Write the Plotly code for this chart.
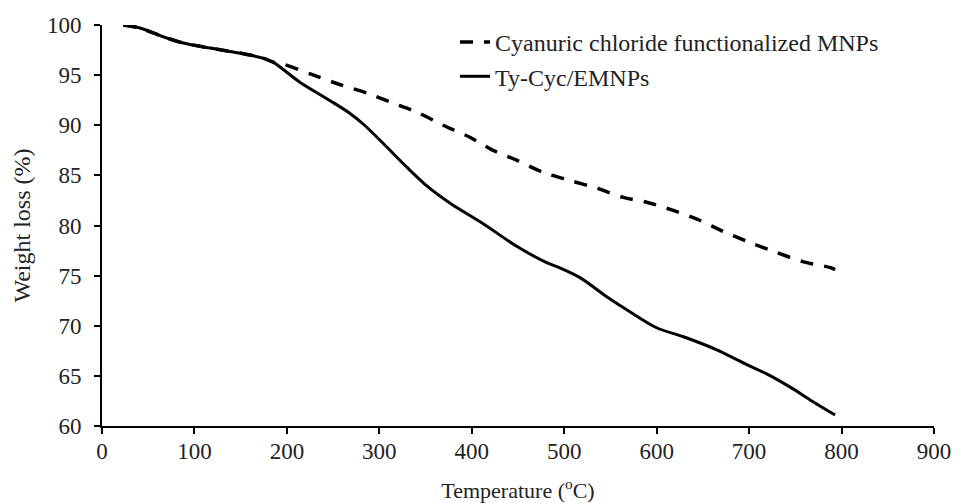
import plotly.graph_objects as go

# Cyanuric chloride functionalized MNPs (dashed)
cyc_temp = [23, 41, 70, 88, 117, 149, 174, 185, 196, 226, 259, 287, 315, 341, 369, 398,
            423, 449, 477, 506, 536, 564, 590, 618, 647, 672, 701, 730, 758, 788, 793]
cyc_wt = [100.0, 99.7, 98.7, 98.2, 97.7, 97.2, 96.7, 96.3, 96.1, 95.1, 94.0, 93.2, 92.2, 91.3, 90.0, 88.8,
          87.5, 86.5, 85.3, 84.5, 83.7, 82.8, 82.3, 81.5, 80.5, 79.4, 78.3, 77.3, 76.4, 75.8, 75.6]

# Ty-Cyc/EMNPs (solid)
ty_temp = [23, 41, 70, 88, 117, 149, 174, 185, 214, 246, 268, 284, 304, 330, 352, 377, 412,
           449, 481, 492, 517, 546, 571, 600, 629, 665, 698, 719, 744, 766, 793]
ty_wt = [100.0, 99.7, 98.7, 98.2, 97.7, 97.2, 96.7, 96.3, 94.3, 92.5, 91.2, 90.0, 88.2, 85.8, 83.9, 82.2, 80.2,
         77.9, 76.3, 75.9, 74.8, 72.9, 71.4, 69.8, 68.9, 67.6, 66.1, 65.2, 63.9, 62.6, 61.1]

x_ticks = [0, 100, 200, 300, 400, 500, 600, 700, 800, 900]
y_ticks = [60, 65, 70, 75, 80, 85, 90, 95, 100]

FONT = "Liberation Serif"
TXT = "#222222"

fig = go.Figure()
fig.add_trace(go.Scatter(
    x=cyc_temp, y=cyc_wt, mode="lines", name="Cyanuric chloride functionalized MNPs",
    line=dict(color="black", width=3.5, dash="13px,11px", shape="spline", smoothing=0.8)))
fig.add_trace(go.Scatter(
    x=ty_temp, y=ty_wt, mode="lines", name="Ty-Cyc/EMNPs",
    line=dict(color="black", width=3, shape="spline", smoothing=0.9)))

axis_common = dict(showgrid=False, zeroline=False, showline=True, linecolor="black", linewidth=2,
                   ticks="outside", tickcolor="black", tickwidth=2, ticklen=6, automargin=False,
                   tickfont=dict(family=FONT, size=23, color=TXT))

fig.update_layout(
    width=955, height=503,
    margin=dict(l=102, r=21, t=25, b=77),
    paper_bgcolor="white", plot_bgcolor="white",
    font=dict(family=FONT, color=TXT),
    xaxis=dict(range=[0, 900], tickvals=x_ticks, ticklabelstandoff=-3,
               title=dict(text="Temperature (<sup>o</sup>C)", font=dict(family=FONT, size=22, color=TXT), standoff=20),
               **axis_common),
    yaxis=dict(range=[60, 100], tickvals=y_ticks, ticklabelstandoff=8,
               title=dict(text="Weight loss (%)", font=dict(family=FONT, size=24, color=TXT), standoff=10),
               **axis_common),
    legend=dict(x=0.4243, y=1.0125, xanchor="left", yanchor="top", bgcolor="rgba(0,0,0,0)",
                font=dict(family=FONT, size=24, color=TXT), tracegroupgap=0),
    showlegend=True,
)

fig.write_html("out.html")
